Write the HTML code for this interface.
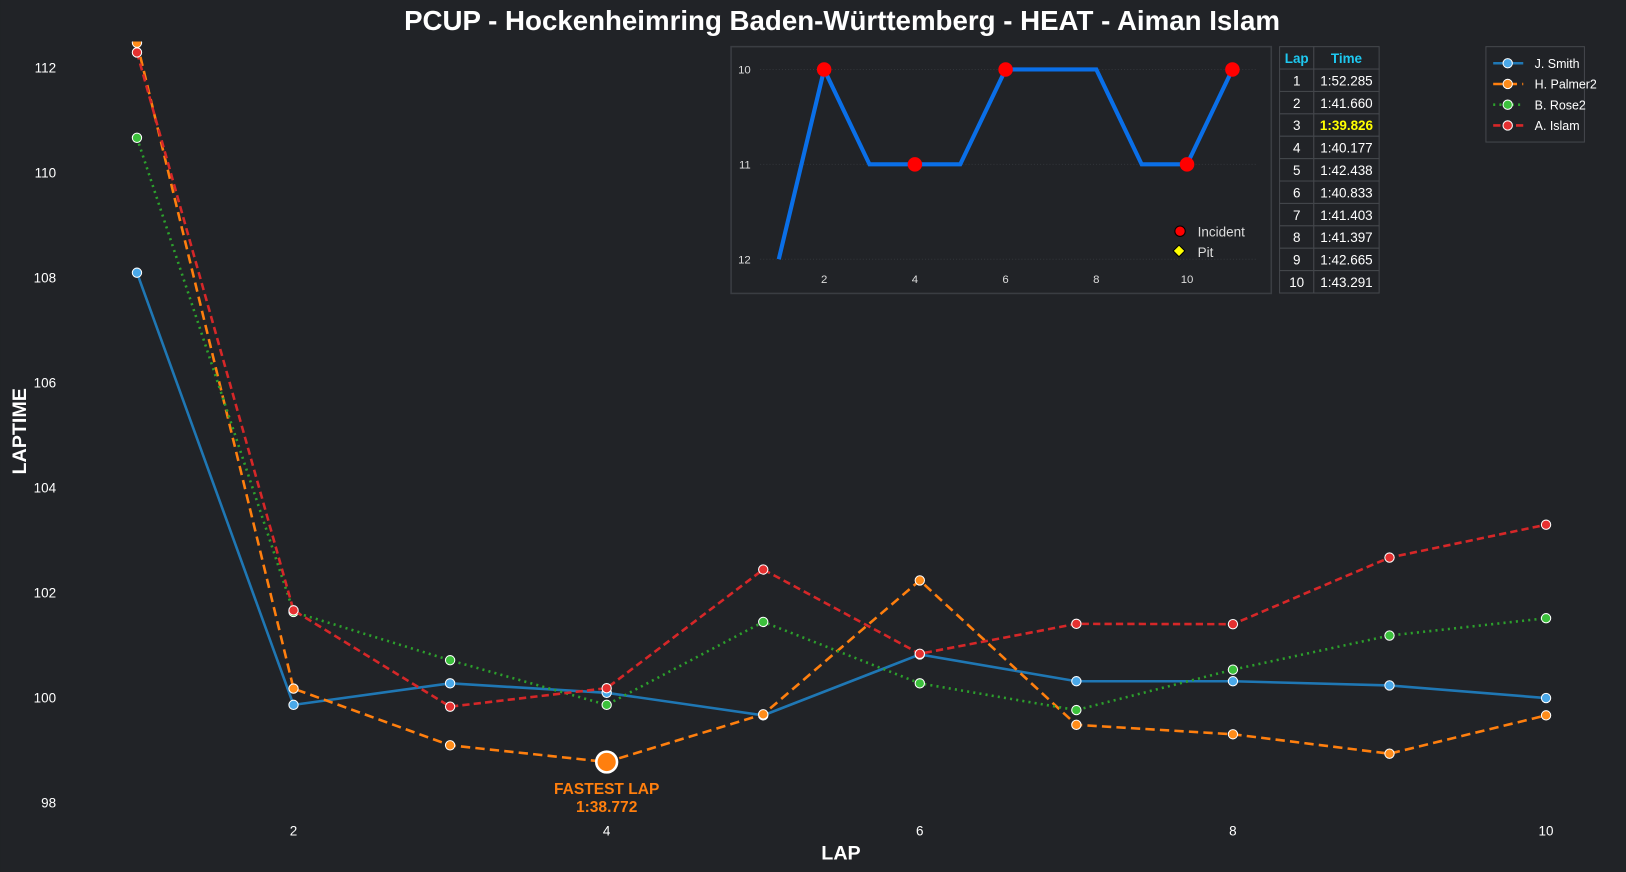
<!DOCTYPE html>
<html><head><meta charset="utf-8"><style>
body{margin:0;background:#212327;}
svg{display:block;font-family:"Liberation Sans",Arial,sans-serif;}
</style></head><body>
<svg id="c" width="1626" height="872" viewBox="0 0 1568 841">
<rect width="1568" height="841" fill="#212327"/>
<text x="812" y="29" text-anchor="middle" fill="#fff" font-size="26.7" font-weight="bold">PCUP - Hockenheimring Baden-Württemberg - HEAT - Aiman Islam</text>
<text x="811" y="829" text-anchor="middle" fill="#fff" font-size="19" font-weight="bold">LAP</text>
<text x="25" y="416" text-anchor="middle" fill="#fff" font-size="19" font-weight="bold" transform="rotate(-90 25 416)">LAPTIME</text>
<defs><clipPath id="pc"><rect x="62" y="40" width="1500" height="760"/></clipPath></defs>
<g id="axes"></g>
<g id="plot" clip-path="url(#pc)"></g>
<g id="inset"></g>
<g id="table"></g>
<g id="legend"></g>
</svg>
<script>
const laps=[1,2,3,4,5,6,7,8,9,10];
const smith=[108.09,99.86,100.27,100.09,99.66,100.82,100.31,100.31,100.23,99.99];
const palmer=[112.47,100.17,99.09,98.772,99.68,102.23,99.48,99.30,98.93,99.66];
const rose=[110.66,101.63,100.71,99.86,101.44,100.27,99.76,100.53,101.18,101.51];
const islam=[112.285,101.660,99.826,100.177,102.438,100.833,101.403,101.397,102.665,103.291];
const xTicks=[2,4,6,8,10];
const yTicks=[98,100,102,104,106,108,110,112];
const tableTimes=["1:52.285","1:41.660","1:39.826","1:40.177","1:42.438","1:40.833","1:41.403","1:41.397","1:42.665","1:43.291"];
const insetLaps=[1,2,3,4,5,6,7,8,9,10,11];
const insetPos=[12,10,11,11,11,10,10,10,11,11,10];
const incidentLaps=[2,4,6,10,11];
const insetXTicks=[2,4,6,8,10];
const insetYTicks=[10,11,12];

const NS="http://www.w3.org/2000/svg";
function mk(t,a,p){const e=document.createElementNS(NS,t);for(const k in a)e.setAttribute(k,a[k]);p.appendChild(e);return e;}
const X=l=>132+(l-1)*151;
const Y=v=>774-(v-98)*50.64;
const axes=document.getElementById('axes'),plot=document.getElementById('plot');
xTicks.forEach(t=>{const e=mk('text',{x:X(t),y:806,'text-anchor':'middle',fill:'#fff','font-size':13},axes);e.textContent=t;

});
yTicks.forEach(t=>{const e=mk('text',{x:54,y:Y(t)+5,'text-anchor':'end',fill:'#fff','font-size':13},axes);e.textContent=t;

});
const series=[
 {name:'J. Smith',d:smith,c:'#1f77b4',dash:'',mf:'#4aa8e8',key:'smith'},
 {name:'H. Palmer2',d:palmer,c:'#ff7f0e',dash:'9 5',mf:'#ff8c1a',key:'palmer'},
 {name:'B. Rose2',d:rose,c:'#2ca02c',dash:'2 4',mf:'#3cc03c',key:'rose'},
 {name:'A. Islam',d:islam,c:'#d62728',dash:'7 4',mf:'#e53030',key:'islam'}];
series.forEach(s=>{
 const p=mk('path',{d:s.d.map((v,i)=>(i?'L':'M')+X(laps[i])+','+Y(v)).join(''),fill:'none',stroke:s.c,'stroke-width':2.5,'stroke-dasharray':s.dash},plot);
 
 
 s.d.forEach((v,i)=>{const m=mk('circle',{cx:X(laps[i]),cy:Y(v),r:4.5,fill:s.mf,stroke:'#fff','stroke-width':1},plot);
 
 });
});
let fi=0;palmer.forEach((v,i)=>{if(v<palmer[fi])fi=i;});
const fc=mk('circle',{cx:X(laps[fi]),cy:Y(palmer[fi]),r:10,fill:'#ff7f0e',stroke:'#fff','stroke-width':2.5},plot);


const ft=mk('text',{x:X(laps[fi]),y:Y(palmer[fi])+31,'text-anchor':'middle',fill:'#ff7f0e','font-size':15,'font-weight':'bold'},plot);
ft.innerHTML='<tspan x="'+X(laps[fi])+'">FASTEST LAP</tspan><tspan x="'+X(laps[fi])+'" dy="17">1:38.772</tspan>';



const ins=document.getElementById('inset');
const ib=mk('rect',{x:705,y:45,width:521,height:238,fill:'#212327',stroke:'#3a3d42','stroke-width':1.5},ins);


const IX=l=>751+(l-1)*43.75, IY=p=>67+(p-10)*91.5;
insetYTicks.forEach(t=>{mk('line',{x1:733,x2:1212,y1:IY(t),y2:IY(t),stroke:'#33363b','stroke-dasharray':'1 2'},ins);
 const e=mk('text',{x:724,y:IY(t)+4,'text-anchor':'end',fill:'#ddd','font-size':11},ins);e.textContent=t;
 
 });
insetXTicks.forEach(t=>{const e=mk('text',{x:IX(t),y:273,'text-anchor':'middle',fill:'#ddd','font-size':11},ins);e.textContent=t;
 
 });
const ipl=mk('path',{d:insetPos.map((p,i)=>(i?'L':'M')+IX(insetLaps[i])+','+IY(p)).join(''),fill:'none',stroke:'#0a6fe8','stroke-width':4},ins);


incidentLaps.forEach(l=>{const i=insetLaps.indexOf(l);const c=mk('circle',{cx:IX(l),cy:IY(insetPos[i]),r:7,fill:'#ff0000'},ins);
 
 });
const li=mk('circle',{cx:1138,cy:223,r:5,fill:'#ff0000',stroke:'#000'},ins);


let t=mk('text',{x:1155,y:228,fill:'#ddd','font-size':13},ins);t.textContent='Incident';


const pd=mk('rect',{x:1133,y:238,width:8,height:8,fill:'#ffff00',stroke:'#000',transform:'rotate(45 1137 242)'},ins);


t=mk('text',{x:1155,y:248,fill:'#ddd','font-size':13},ins);t.textContent='Pit';



const tb=document.getElementById('table');
const rh=21.6,tx=1234,cw1=33,cw2=63;
function cell(x,y,w,txt,col,bold,name){mk('rect',{x:x,y:y,width:w,height:rh,fill:'#212327',stroke:'#44474c'},tb);
 const e=mk('text',{x:x+w/2,y:y+rh/2+5,'text-anchor':'middle',fill:col,'font-size':13,'font-weight':bold?'bold':'normal'},tb);e.textContent=txt;
 
 }
cell(tx,45,cw1,'Lap','#1ec8f0',true,'table-header-lap');
cell(tx+cw1,45,cw2,'Time','#1ec8f0',true,'table-header-time');
let best=0;islam.forEach((v,i)=>{if(v<islam[best])best=i;});
tableTimes.forEach((tt,i)=>{const y=45+rh*(i+1);
 cell(tx,y,cw1,String(i+1),'#fff',false,'table-lap-cell');
 cell(tx+cw1,y,cw2,tt,i===best?'#ffff00':'#fff',i===best,'table-time-cell');});

const lg=document.getElementById('legend');
const lb=mk('rect',{x:1433,y:45,width:95,height:92,fill:'#212327',stroke:'#44474c'},lg);


series.forEach((s,i)=>{const y=61+i*20;
 mk('line',{x1:1440,x2:1469,y1:y,y2:y,stroke:s.c,'stroke-width':2.5,'stroke-dasharray':s.dash},lg);
 mk('circle',{cx:1454,cy:y,r:4.5,fill:s.mf,stroke:'#fff'},lg);
 const e=mk('text',{x:1480,y:y+4.5,fill:'#fff','font-size':12},lg);e.textContent=s.name;
 
 });
</script>
</body></html>
